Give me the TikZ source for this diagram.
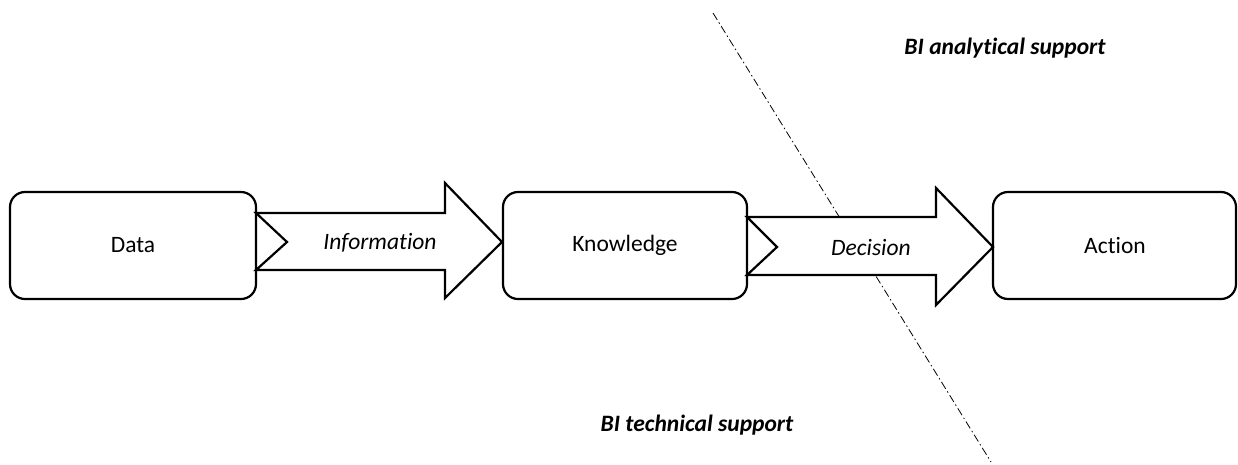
\documentclass[tikz,border=0pt]{standalone}
\usepackage{fontspec}
\setmainfont{Carlito}[Ligatures=NoCommon]
\begin{document}
\begin{tikzpicture}[x=1pt,y=-1pt,
  stagebox/.style={draw,line width=2.2pt,rounded corners=15pt,fill=white},
  blockarrow/.style={draw,line width=2.2pt,fill=white,line join=miter},
  lbl/.style={font=\fontsize{23.5}{27}\selectfont},
  ilbl/.style={font=\fontsize{23.5}{27}\selectfont\itshape},
  blbl/.style={font=\fontsize{23.5}{27}\selectfont\bfseries\itshape},
  divider/.style={line width=0.8pt,dash pattern=on 8pt off 3pt on 1.5pt off 3pt}]
\useasboundingbox (0,0) rectangle (1238,464);
\coordinate (ls) at (713,13);
\coordinate (le) at (991,462);
\draw[divider] (ls) -- (le);
% boxes
\draw[stagebox] (10,192) rectangle (256,299);
\node[lbl] (data) at (133,245.5) {Data};
\draw[stagebox] (503,192) rectangle (747,299);
\node[lbl] (know) at (625,245.5) {Knowledge};
\draw[stagebox] (993,192) rectangle (1236,299);
\node[lbl] (act) at (1115,245.5) {Action};
% block arrows
\draw[blockarrow] (256,213) -- (445,213) -- (445,183) -- (502,242) -- (445,298) -- (445,270) -- (256,270) -- (287,242) -- cycle;
\node[ilbl] (info) at (380,243) {Information};
\draw[blockarrow] (747,217) -- (936,217) -- (936,188) -- (993,247) -- (936,305) -- (936,275) -- (747,275) -- (777,247) -- cycle;
\node[ilbl] (dec) at (871,247) {Decision};
% region labels
\node[blbl] (ana) at (1005,48) {BI analytical support};
\node[blbl] (tech) at (697,425) {BI technical support};
\end{tikzpicture}
\end{document}
